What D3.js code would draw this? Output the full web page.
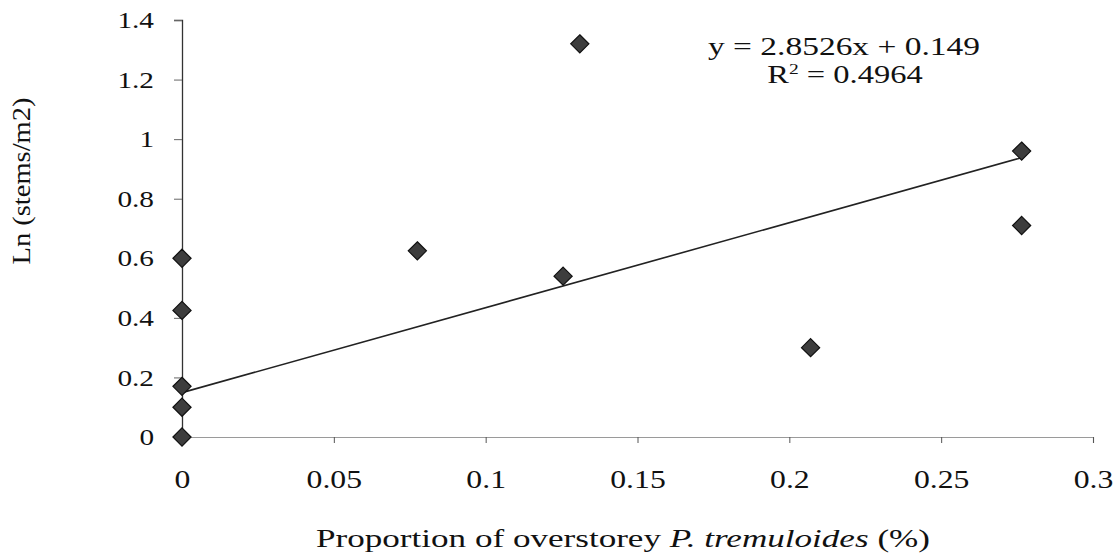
<!DOCTYPE html>
<html>
<head>
<meta charset="utf-8">
<script src="https://cdn.jsdelivr.net/npm/d3@7"></script>
<style>
  html, body { margin: 0; padding: 0; background: #fff; }
  svg { display: block; }
  svg text { font-family: "Liberation Serif", "Times New Roman", serif; fill: #111; }
</style>
</head>
<body>
<svg id="chart" width="1120" height="554"></svg>
<script>
// Proportion of overstorey aspen vs. log sapling density
const xValues = [0, 0, 0, 0, 0, 0.0775, 0.1255, 0.131, 0.207, 0.2765, 0.2765];
const yValues = [0.6, 0.425, 0.17, 0.1, 0.0, 0.625, 0.54, 1.32, 0.30, 0.96, 0.71];
const xTicks = [0, 0.05, 0.1, 0.15, 0.2, 0.25, 0.3];
const yTicks = [0, 0.2, 0.4, 0.6, 0.8, 1, 1.2, 1.4];
const slope = 2.8526;
const intercept = 0.149;
const rSquared = 0.4964;

const svg = d3.select("#chart");
const margin = { left: 182, right: 27, top: 20, bottom: 117 };
const W = 1120, H = 554;

const x = d3.scaleLinear().domain([0, 0.3]).range([margin.left, W - margin.right]);
const y = d3.scaleLinear().domain([0, 1.4]).range([H - margin.bottom, margin.top]);

// widen a text element horizontally by a factor, keeping its anchor
function widen(sel, k) {
  sel.each(function () {
    const w = this.getComputedTextLength();
    d3.select(this).attr("textLength", w * k).attr("lengthAdjust", "spacingAndGlyphs");
  });
}

// X axis (light grey line, ticks below)
const xAxis = svg.append("g")
  .attr("transform", `translate(0,${y(0)})`)
  .call(d3.axisBottom(x).tickValues(xTicks).tickSize(6).tickPadding(27)
    .tickFormat(d => d3.format("")(d)));
xAxis.attr("font-family", null);
xAxis.select(".domain").attr("stroke", "#9a9a9a").attr("stroke-width", 1.2);
xAxis.selectAll(".tick line").attr("stroke", "#555");
xAxis.selectAll(".tick text").attr("font-size", 26).attr("fill", "#111").call(widen, 1.22);

// Y axis
const yAxis = svg.append("g")
  .attr("transform", `translate(${x(0)},0)`)
  .call(d3.axisLeft(y).tickValues(yTicks).tickSize(8).tickPadding(20)
    .tickFormat(d => d3.format("")(d)));
yAxis.attr("font-family", null);
yAxis.select(".domain").attr("stroke", "#333").attr("stroke-width", 1.3);
yAxis.selectAll(".tick line").attr("stroke", "#666");
yAxis.selectAll(".tick text").attr("font-size", 24).attr("fill", "#111").call(widen, 1.22);

// Linear trend line over the observed x range
const xMax = d3.max(xValues);
svg.append("line")
  .attr("x1", x(0)).attr("y1", y(intercept))
  .attr("x2", x(xMax)).attr("y2", y(slope * xMax + intercept))
  .attr("stroke", "#222").attr("stroke-width", 1.6);

// Diamond markers
const diamond = d3.symbol().type(d3.symbolDiamond2).size(210);
svg.append("g").selectAll("path")
  .data(xValues.map((v, i) => [v, yValues[i]]))
  .join("path")
  .attr("d", diamond)
  .attr("transform", d => `translate(${x(d[0])},${y(d[1])})`)
  .attr("fill", "#3d3d3d")
  .attr("stroke", "#111")
  .attr("stroke-width", 1.2);

// Regression equation
svg.append("text")
  .attr("x", 844).attr("y", 55)
  .attr("text-anchor", "middle")
  .attr("font-size", 25)
  .attr("textLength", 272).attr("lengthAdjust", "spacingAndGlyphs")
  .text(`y = ${slope}x + ${intercept}`);
const r2 = svg.append("text")
  .attr("x", 845).attr("y", 83)
  .attr("text-anchor", "middle")
  .attr("font-size", 25);
r2.append("tspan").text("R");
r2.append("tspan").attr("font-size", 15).attr("dy", -9).text("2");
r2.append("tspan").attr("dy", 9).text(` = ${rSquared}`);
widen(r2, 1.3);

// Axis titles
svg.append("text")
  .attr("transform", `translate(30,181) rotate(-90)`)
  .attr("text-anchor", "middle")
  .attr("font-size", 26)
  .attr("textLength", 167).attr("lengthAdjust", "spacingAndGlyphs")
  .text("Ln (stems/m2)");

const xt = svg.append("text")
  .attr("x", 623).attr("y", 547)
  .attr("text-anchor", "middle")
  .attr("font-size", 26)
  .attr("textLength", 614).attr("lengthAdjust", "spacingAndGlyphs");
xt.append("tspan").text("Proportion of overstorey ");
xt.append("tspan").attr("font-style", "italic").text("P. tremuloides");
xt.append("tspan").text(" (%)");
</script>
</body>
</html>
